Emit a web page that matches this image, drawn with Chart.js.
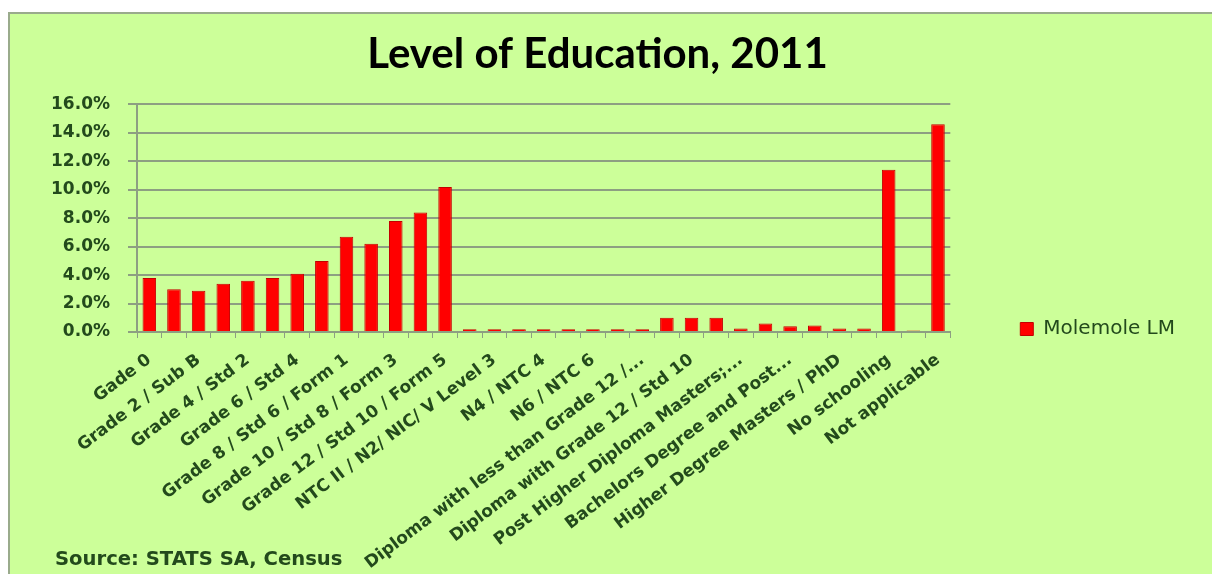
<!DOCTYPE html>
<html>
<head>
<meta charset="utf-8">
<script src="https://cdn.jsdelivr.net/npm/chart.js@4.4.1/dist/chart.umd.min.js"></script>
<style>
html, body { margin: 0; padding: 0; background: #ffffff; }
#canvas-holder { width: 1212px; height: 574px; }
</style>
</head>
<body>
<div id="canvas-holder"><canvas id="chartArea"></canvas></div>
<script>
// Level of Education, 2011 - Molemole LM (share of population)
var categories = [
    "Gade 0",
    "Grade 1 / Sub A",
    "Grade 2 / Sub B",
    "Grade 3 / Std 1/ABET 1",
    "Grade 4 / Std 2",
    "Grade 5 / Std 3/ABET 2",
    "Grade 6 / Std 4",
    "Grade 7 / Std 5/ ABET 3",
    "Grade 8 / Std 6 / Form 1",
    "Grade 9 / Std 7 / Form 2/ ABET 4",
    "Grade 10 / Std 8 / Form 3",
    "Grade 11 / Std 9 / Form 4",
    "Grade 12 / Std 10 / Form 5",
    "NTC I / N1/ NIC/ V Level 2",
    "NTC II / N2/ NIC/ V Level 3",
    "NTC III /N3/ NIC/ V Level 4",
    "N4 / NTC 4",
    "N5 /NTC 5",
    "N6 / NTC 6",
    "Certificate with less than Grade 12 /...",
    "Diploma with less than Grade 12 /...",
    "Certificate with Grade 12 / Std 10",
    "Diploma with Grade 12 / Std 10",
    "Higher Diploma",
    "Post Higher Diploma Masters;...",
    "Bachelors Degree",
    "Bachelors Degree and Post...",
    "Honours degree",
    "Higher Degree Masters / PhD",
    "Other",
    "No schooling",
    "Unspecified",
    "Not applicable"
];
var seriesName = "Molemole LM";
var values = [3.8, 3.0, 2.9, 3.4, 3.6, 3.8, 4.1, 5.0, 6.7, 6.2, 7.8, 8.4, 10.2,
              0.2, 0.2, 0.2, 0.2, 0.2, 0.2, 0.2, 0.2,
              1.0, 1.0, 1.0, 0.25, 0.6, 0.4, 0.45, 0.25, 0.25,
              11.4, 0.1, 14.6];
var yMin = 0, yMax = 16, yStep = 2;

var txtGreen = '#234a1c';
var gridColor = '#8d9f82';

var chartBackground = {
    id: 'chartBackground',
    beforeDraw: function (chart) {
        var c = chart.ctx;
        c.save();
        c.fillStyle = '#ffffff';
        c.fillRect(0, 0, chart.width, chart.height);
        c.fillStyle = '#ccff99';
        c.fillRect(9, 13, chart.width - 9, chart.height - 13);
        c.strokeStyle = '#9aab8c';
        c.lineWidth = 2;
        c.beginPath();
        c.moveTo(9, chart.height);
        c.lineTo(9, 13);
        c.lineTo(chart.width, 13);
        c.stroke();
        c.restore();
    }
};

var sourceNote = {
    id: 'sourceNote',
    afterDraw: function (chart) {
        var c = chart.ctx;
        c.save();
        c.fillStyle = txtGreen;
        c.font = 'bold 19.6px "DejaVu Sans"';
        c.textAlign = 'left';
        c.textBaseline = 'alphabetic';
        c.fillText('Source: STATS SA, Census', 55, 565);
        c.restore();
    }
};

var config = {
    type: 'bar',
    data: {
        labels: categories,
        datasets: [{
            label: seriesName,
            data: values,
            backgroundColor: '#ff0000',
            borderColor: '#c40000',
            borderWidth: 1,
            barPercentage: 0.55,
            categoryPercentage: 1.0
        }]
    },
    options: {
        responsive: true,
        maintainAspectRatio: false,
        animation: false,
        layout: {
            padding: { top: 12, left: 10, right: 27, bottom: 0 }
        },
        plugins: {
            title: {
                display: true,
                text: 'Level of Education, 2011',
                color: '#000000',
                font: { family: 'Lato', size: 42, weight: 'bold' },
                padding: { top: 17, bottom: 25 }
            },
            legend: {
                display: true,
                position: 'right',
                align: 'center',
                title: {
                    display: true,
                    text: '',
                    font: { size: 30 },
                    padding: { top: 36, bottom: 0 }
                },
                labels: {
                    color: txtGreen,
                    font: { family: 'DejaVu Sans', size: 20 },
                    boxWidth: 13,
                    boxHeight: 13,
                    padding: 70
                }
            },
            tooltip: { enabled: false }
        },
        scales: {
            x: {
                grid: {
                    display: true,
                    drawOnChartArea: false,
                    drawTicks: true,
                    tickLength: 6,
                    color: gridColor
                },
                border: { display: true, color: gridColor, width: 2 },
                ticks: {
                    autoSkip: false,
                    minRotation: 37,
                    maxRotation: 37,
                    padding: 12,
                    color: txtGreen,
                    font: { family: 'DejaVu Sans', size: 17, weight: 'bold' },
                    callback: function (val, index) {
                        return index % 2 === 0 ? this.getLabelForValue(val) : '';
                    }
                },
                afterFit: function (scale) { scale.height = 242; }
            },
            y: {
                min: yMin,
                max: yMax,
                grid: {
                    color: gridColor,
                    lineWidth: 2,
                    drawTicks: true,
                    tickLength: 9
                },
                border: { display: true, color: gridColor, width: 2 },
                ticks: {
                    stepSize: yStep,
                    padding: 18,
                    color: txtGreen,
                    font: { family: 'DejaVu Sans', size: 17, weight: 'bold' },
                    callback: function (v) { return v.toFixed(1) + '%'; }
                },
                afterFit: function (scale) { scale.width = 127; }
            }
        }
    },
    plugins: [chartBackground, sourceNote]
};

var ctx = document.getElementById('chartArea').getContext('2d');
var myNewChart = new Chart(ctx, config);
</script>
</body>
</html>
